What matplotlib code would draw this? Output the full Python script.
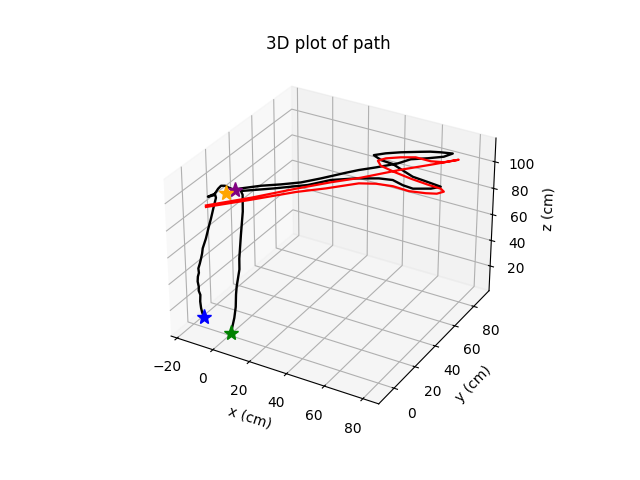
import matplotlib
matplotlib.use("Agg")
import matplotlib.pyplot as plt

# Black path (measured trajectory), cm
path_x = [-13.9, -14.5, -14.9, -15.4, -15.1, -15.8, -15.6, -16.2, -15.9, -15.3, -15.5, -14.8, -14.2,
          -13.7, -13.4, -11.8, -10.6, -9.2, -8.0, -6.5,
          -9.0, -10.2, -8.6, -10.3, -10.7, -9.1, -6.5, -3.5,
          -1.4, 5.2, 12.5, 19.5, 25.5, 32.8, 36.7, 42.3, 46.5, 49.3, 52.6, 59.1, 64.9, 67.1,
          61.6, 57.0, 53.1, 45.2, 39.5, 35.5, 40.8, 47.6, 53.9, 61.6, 69.5, 77.3,
          74.2, 67.1, 61.5, 55.1, 48.8, 39.6, 30.3, 23.5, 11.7, -0.1,
          2.5, 3.0, 2.9, 3.1, 3.6, 3.3, 3.0, 3.1, 3.6, 3.5, 3.2]
path_y = [-0.5, -0.7, -0.9, -0.7, -0.8, -1.0, -1.1, -1.0, -1.1, -1.0, -1.0, -0.7, -0.4,
          -0.1, 0.1, 0.7, 1.2, 1.6, 2.0, 2.2,
          5.1, 1.2, 3.7, 9.8, 12.9, 13.8, 13.1, 12.6,
          15.3, 22.0, 27.7, 33.9, 41.8, 52.4, 57.7, 63.9, 69.0, 72.5, 79.2, 84.1, 89.2, 94.2,
          92.5, 90.6, 88.2, 83.1, 78.6, 74.2, 71.5, 70.8, 67.9, 64.4, 63.4, 62.3,
          58.4, 54.3, 54.9, 57.0, 55.2, 49.9, 42.8, 33.3, 22.8, 13.2,
          10.6, 9.6, 7.7, 5.5, 4.6, 3.6, 2.8, 1.9, 0.6, -0.7, -3.5]
path_z = [9, 12.2, 15.6, 20.4, 25.7, 28.8, 32.0, 35.7, 39.6, 42.7, 46.0, 49.7, 53.6,
          57.4, 61.2, 68.9, 76.5, 84.2, 91.8, 100,
          100, 100, 100, 100, 100, 100, 100, 100,
          100, 100, 100, 100, 100, 100, 100, 100, 100, 100, 100, 100, 100, 100,
          100, 100, 100, 100, 100, 100, 100, 100, 100, 100, 100, 100,
          100, 100, 100, 100, 100, 100, 100, 100, 100, 100,
          100, 88.5, 72.7, 56.4, 49.2, 42.8, 37.3, 31.8, 23.5, 16.0, 6]

# Red path (reference trajectory), cm
ref_x = [-6.5, 7.3, 20.6, 31.4, 41.2, 53.5, 63.3, 72.4, 67.5, 61.7, 53.7, 47.6, 42.0, 39.9,
         43.5, 51.7, 61.7, 71.3, 78.2, 80.7, 78.8, 74.2, 66.6, 58.0, 50.1, 43.1, 32.4,
         22.2, 8.3, -5.7]
ref_y = [-6.1, 10.1, 27.6, 40.9, 51.6, 67.7, 79.0, 90.0, 84.3, 82.1, 82.1, 78.6, 74.2, 70.2,
         66.5, 64.3, 62.3, 61.1, 60.6, 58.8, 55.5, 53.4, 51.3, 51.8, 50.0, 46.4, 34.7,
         24.9, 8.5, -7.3]
ref_z = [100, 100, 100, 100, 100, 100, 100, 100, 100, 100, 100, 100, 100, 100,
         100, 100, 100, 100, 100, 100, 100, 100, 100, 100, 100, 100, 100,
         100, 100, 100]

# Marked points (x, y, z) and colours, in drawing order
star_x = [-2.8, -4.8, -13.9, 3.2]
star_y = [12.7, 7.9, -0.5, -3.5]
star_z = [100, 100, 9, 6]
star_colors = ["purple", "orange", "blue", "green"]

fig = plt.figure(figsize=(6.4, 4.8), dpi=100)
ax = fig.add_subplot(projection="3d")
ax.computed_zorder = False

ax.plot(path_x, path_y, path_z, color="black", linewidth=1.7)
ax.plot(ref_x, ref_y, ref_z, color="red", linewidth=1.6)
for sx, sy, sz, c in zip(star_x, star_y, star_z, star_colors):
    ax.plot([sx], [sy], [sz], marker="*", markersize=11, color=c, linestyle="none")

ax.set_xlim(-23.4, 88.1)
ax.set_ylim(-14.2, 96.6)
ax.set_zlim(0.3, 117.6)
ax.set_xlabel("x (cm)")
ax.set_ylabel("y (cm)")
ax.set_zlabel("z (cm)")
ax.set_title("3D plot of path")

fig.savefig("out.png", dpi=100)
